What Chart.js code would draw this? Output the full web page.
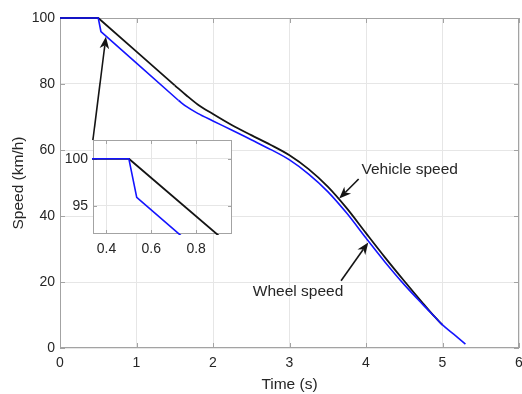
<!DOCTYPE html>
<html>
<head>
<meta charset="utf-8">
<script src="https://cdn.jsdelivr.net/npm/chart.js@4"></script>
<style>
  html, body { margin: 0; padding: 0; background: #fff; }
  #wrap { position: relative; width: 522px; height: 394px; overflow: hidden; }
  #main { position: absolute; left: 0; top: 0; }
  #inset { position: absolute; left: 53px; top: 132px; }
</style>
</head>
<body>
<div id="wrap">
  <canvas id="main" width="522" height="394"></canvas>
  <canvas id="inset" width="185" height="130"></canvas>
</div>
<script>
// Vehicle speed (km/h) against time (s)
const TIME_VEHICLE  = [0, 0.5, 1.0, 1.5, 1.65, 1.8, 2.0, 2.25, 2.5, 2.75, 3.0, 3.25, 3.5, 3.75, 4.0, 4.25, 4.5, 4.75, 4.9, 5.0];
const SPEED_VEHICLE = [100, 100, 89.8, 79.6, 76.6, 73.8, 70.9, 67.5, 64.5, 61.6, 58.4, 54.2, 48.9, 42.3, 34.8, 27.4, 20.3, 13.4, 9.4, 7.0];

// Wheel speed (km/h) against time (s)
const TIME_WHEEL  = [0, 0.5, 0.535, 1.0, 1.55, 1.65, 1.8, 2.0, 2.25, 2.5, 2.75, 3.0, 3.25, 3.5, 3.75, 4.0, 4.25, 4.5, 4.75, 4.9, 5.0, 5.15, 5.3];
const SPEED_WHEEL = [100, 100, 95.9, 86.3, 75.0, 73.2, 71.1, 68.8, 66.0, 63.1, 60.2, 57.0, 52.7, 47.4, 40.8, 33.3, 26.0, 19.2, 13.0, 9.4, 7.0, 4.1, 1.2];

// Where each trace turns from straight braking segments into a smooth curve (s)
const VEHICLE_CURVE_FROM = 1.5;
const WHEEL_CURVE_FROM = 1.55;

// Axis ticks
const X_TICKS = [0, 1, 2, 3, 4, 5, 6];
const Y_TICKS = [0, 20, 40, 60, 80, 100];
const INSET_X_TICKS = [0.4, 0.6, 0.8];
const INSET_Y_TICKS = [95, 100];

// Axis limits
const X_RANGE = [0, 6];
const Y_RANGE = [0, 100];
const INSET_X_RANGE = [0.34, 0.96];
const INSET_Y_RANGE = [92, 102];

// Text labels
const X_TITLE = 'Time (s)';
const Y_TITLE = 'Speed (km/h)';
const VEHICLE_LABEL = 'Vehicle speed';
const WHEEL_LABEL = 'Wheel speed';

// Callouts in data units: label anchor, arrow tail, arrow tip
const LABEL_VEHICLE_AT = [3.94, 53.9];
const ARROW_VEHICLE = [[3.904, 51.2], [3.65, 45.3]];
const LABEL_WHEEL_AT = [2.52, 17.0];
const ARROW_WHEEL = [[3.674, 20.4], [4.03, 32.0]];
const ARROW_INSET = [[0.430, 63.0], [0.60, 94.3]];

const FONT = "'Liberation Sans', Arial, Helvetica, sans-serif";
const TEXT = '#262626';
const BOX = '#a3a3a3';
const GRID = '#e6e6e6';
const BLUE = '#1414ff';
const BLACK = '#141414';

Chart.defaults.font.family = FONT;
Chart.defaults.color = TEXT;

// Points up to (straight) or from (curved) the given time
function part(xs, ys, at, straight) {
  const pts = [];
  xs.forEach((x, i) => {
    if (straight ? x <= at : x >= at) pts.push({ x: x, y: ys[i] });
  });
  return pts;
}

function fixedSize(size) {
  return function (scale) {
    if (scale.isHorizontal()) scale.height = size; else scale.width = size;
    scale.paddingLeft = scale.paddingRight = scale.paddingTop = scale.paddingBottom = 0;
  };
}
function fixedTicks(values) {
  return function (scale) { scale.ticks = values.map(v => ({ value: v })); };
}

function datasets(clip) {
  const line = (label, data, color, width, smooth) => ({
    label: label, data: data, borderColor: color, borderWidth: width,
    pointRadius: 0, fill: false, clip: clip,
    tension: smooth ? 0.4 : 0,
    cubicInterpolationMode: smooth ? 'monotone' : 'default',
    borderJoinStyle: 'round'
  });
  return [
    line(WHEEL_LABEL, part(TIME_WHEEL, SPEED_WHEEL, WHEEL_CURVE_FROM, true), BLUE, 1.6, false),
    line(WHEEL_LABEL, part(TIME_WHEEL, SPEED_WHEEL, WHEEL_CURVE_FROM, false), BLUE, 1.6, true),
    line(VEHICLE_LABEL, part(TIME_VEHICLE, SPEED_VEHICLE, VEHICLE_CURVE_FROM, true), BLACK, 1.8, false),
    line(VEHICLE_LABEL, part(TIME_VEHICLE, SPEED_VEHICLE, VEHICLE_CURVE_FROM, false), BLACK, 1.8, true)
  ];
}

// Box round the plot area with inward tick marks on all four sides
const framePlugin = {
  id: 'frame',
  beforeDatasetsDraw(chart, args, opts) {
    const { ctx, chartArea: a, scales } = chart;
    const len = opts.tickLen || 5;
    ctx.save();
    ctx.strokeStyle = BOX;
    ctx.lineWidth = 1;
    ctx.beginPath();
    scales.x.ticks.forEach(t => {
      const px = Math.round(scales.x.getPixelForValue(t.value)) + 0.5;
      ctx.moveTo(px, a.bottom); ctx.lineTo(px, a.bottom - len);
      ctx.moveTo(px, a.top); ctx.lineTo(px, a.top + len);
    });
    scales.y.ticks.forEach(t => {
      const py = Math.round(scales.y.getPixelForValue(t.value)) + 0.5;
      ctx.moveTo(a.left, py); ctx.lineTo(a.left + len, py);
      ctx.moveTo(a.right, py); ctx.lineTo(a.right - len, py);
    });
    ctx.stroke();
    ctx.strokeRect(a.left + 0.5, a.top + 0.5, a.right - a.left - 1, a.bottom - a.top - 1);
    ctx.restore();
  }
};

function drawArrow(ctx, x1, y1, x2, y2) {
  const ang = Math.atan2(y2 - y1, x2 - x1);
  const headLen = 12, halfW = 4.8, notch = 8.5;
  const cos = Math.cos(ang), sin = Math.sin(ang);
  const bx = x2 - notch * cos, by = y2 - notch * sin;
  ctx.beginPath();
  ctx.moveTo(x1, y1);
  ctx.lineTo(bx, by);
  ctx.stroke();
  const hx = x2 - headLen * cos, hy = y2 - headLen * sin;
  ctx.beginPath();
  ctx.moveTo(x2, y2);
  ctx.lineTo(hx - halfW * sin, hy + halfW * cos);
  ctx.lineTo(bx, by);
  ctx.lineTo(hx + halfW * sin, hy - halfW * cos);
  ctx.closePath();
  ctx.fill();
}

// Callout arrows and their labels
const calloutPlugin = {
  id: 'callouts',
  afterDatasetsDraw(chart) {
    const { ctx, scales: { x, y } } = chart;
    const P = p => [x.getPixelForValue(p[0]), y.getPixelForValue(p[1])];
    ctx.save();
    ctx.strokeStyle = BLACK;
    ctx.fillStyle = BLACK;
    ctx.lineWidth = 1.6;
    [ARROW_VEHICLE, ARROW_WHEEL, ARROW_INSET].forEach(([tail, tip]) => {
      const [x1, y1] = P(tail), [x2, y2] = P(tip);
      drawArrow(ctx, x1, y1, x2, y2);
    });
    ctx.fillStyle = TEXT;
    ctx.font = '15.5px ' + FONT;
    ctx.textAlign = 'left';
    ctx.textBaseline = 'middle';
    let p = P(LABEL_VEHICLE_AT);
    ctx.fillText(VEHICLE_LABEL, p[0], p[1]);
    p = P(LABEL_WHEEL_AT);
    ctx.fillText(WHEEL_LABEL, p[0], p[1]);
    ctx.restore();
  }
};

// White face behind the inset plot area
const insetFacePlugin = {
  id: 'insetFace',
  beforeDraw(chart) {
    const { ctx, chartArea: a } = chart;
    ctx.save();
    ctx.fillStyle = '#ffffff';
    ctx.fillRect(a.left, a.top, a.right - a.left, a.bottom - a.top);
    ctx.restore();
  }
};

new Chart(document.getElementById('main'), {
  type: 'line',
  data: { datasets: datasets(4) },
  plugins: [framePlugin, calloutPlugin],
  options: {
    responsive: false,
    animation: false,
    layout: { padding: { left: 0, top: 18, right: 3, bottom: 0 } },
    plugins: { legend: { display: false }, tooltip: { enabled: false }, frame: { tickLen: 5 } },
    scales: {
      x: {
        type: 'linear', min: X_RANGE[0], max: X_RANGE[1],
        afterBuildTicks: fixedTicks(X_TICKS),
        afterFit: fixedSize(46),
        grid: { color: GRID, drawTicks: false },
        border: { display: false },
        ticks: { padding: 7, font: { size: 14 }, color: TEXT, maxRotation: 0,
                 callback: v => String(v) },
        title: { display: true, text: X_TITLE, font: { size: 15.5 }, color: TEXT,
                 padding: { top: 0, bottom: 0 } }
      },
      y: {
        type: 'linear', min: Y_RANGE[0], max: Y_RANGE[1],
        afterBuildTicks: fixedTicks(Y_TICKS),
        afterFit: fixedSize(60),
        grid: { color: GRID, drawTicks: false },
        border: { display: false },
        ticks: { padding: 5, font: { size: 14 }, color: TEXT, callback: v => String(v) },
        title: { display: true, text: Y_TITLE, font: { size: 15.5 }, color: TEXT,
                 padding: { top: 9, bottom: 0 } }
      }
    }
  }
});

new Chart(document.getElementById('inset'), {
  type: 'line',
  data: { datasets: datasets(1) },
  plugins: [insetFacePlugin, framePlugin],
  options: {
    responsive: false,
    animation: false,
    layout: { padding: { left: 0, top: 8, right: 6, bottom: 0 } },
    plugins: { legend: { display: false }, tooltip: { enabled: false }, frame: { tickLen: 4 } },
    scales: {
      x: {
        type: 'linear', min: INSET_X_RANGE[0], max: INSET_X_RANGE[1],
        afterBuildTicks: fixedTicks(INSET_X_TICKS),
        afterFit: fixedSize(28),
        grid: { color: GRID, drawTicks: false },
        border: { display: false },
        ticks: { padding: 7, font: { size: 14 }, color: TEXT, maxRotation: 0,
                 callback: v => v.toFixed(1) }
      },
      y: {
        type: 'linear', min: INSET_Y_RANGE[0], max: INSET_Y_RANGE[1],
        afterBuildTicks: fixedTicks(INSET_Y_TICKS),
        afterFit: fixedSize(40),
        grid: { color: GRID, drawTicks: false },
        border: { display: false },
        ticks: { padding: 5, font: { size: 14 }, color: TEXT, callback: v => String(v) }
      }
    }
  }
});
</script>
</body>
</html>
